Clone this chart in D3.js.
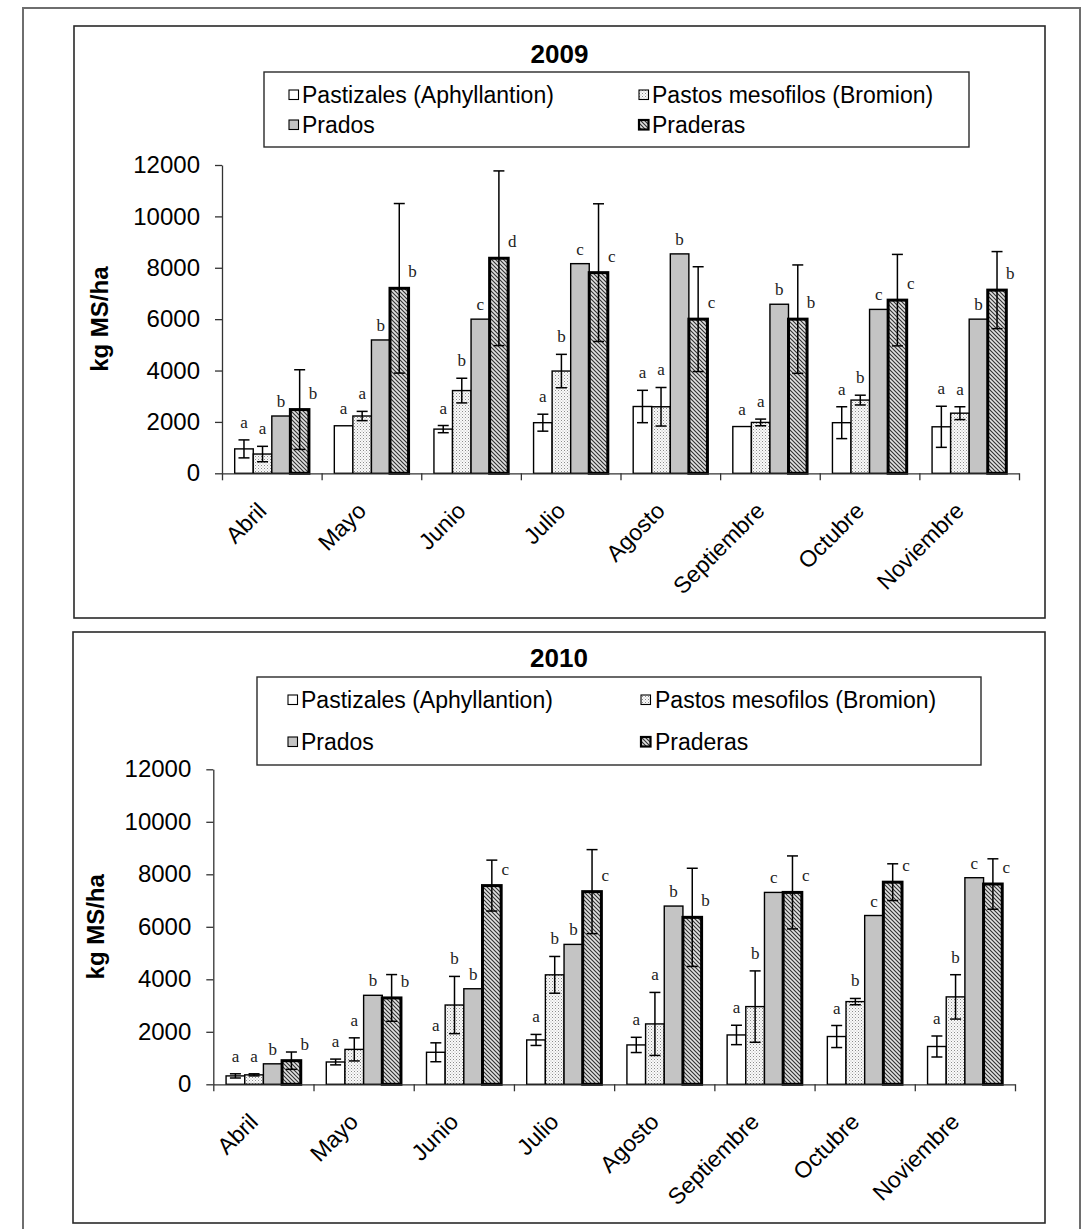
<!DOCTYPE html>
<html>
<head>
<meta charset="utf-8">
<script src="https://cdn.jsdelivr.net/npm/d3@7"></script>
<style>
  body { margin: 0; background: #fff; }
  svg { display: block; }
</style>
</head>
<body>
<script>
// ---- data -------------------------------------------------------------
const months = ["Abril", "Mayo", "Junio", "Julio", "Agosto", "Septiembre", "Octubre", "Noviembre"];
const seriesNames = ["Pastizales (Aphyllantion)", "Pastos mesofilos (Bromion)", "Prados", "Praderas"];
const yTicks = [0, 2000, 4000, 6000, 8000, 10000, 12000];

// 2009 (kg MS/ha, mean and error)
const pastizales2009    = [950, 1850, 1720, 1970, 2600, 1820, 1970, 1810];
const pastizalesErr2009 = [350, 0, 140, 330, 630, 0, 620, 800];
const pastos2009        = [750, 2230, 3220, 3980, 2590, 1980, 2850, 2340];
const pastosErr2009     = [300, 180, 480, 650, 750, 130, 190, 250];
const prados2009        = [2230, 5190, 6000, 8160, 8540, 6580, 6380, 6000];
const praderas2009      = [2480, 7200, 8370, 7810, 6000, 6000, 6740, 7130];
const praderasErr2009   = [1550, 3300, 3400, 2680, 2040, 2110, 1780, 1500];
const pastizalesLet2009 = ["a", "a", "a", "a", "a", "a", "a", "a"];
const pastosLet2009     = ["a", "a", "b", "b", "a", "a", "b", "a"];
const pradosLet2009     = ["b", "b", "c", "c", "b", "b", "c", "b"];
const praderasLet2009   = ["b", "b", "d", "c", "c", "b", "c", "b"];

// 2010
const pastizales2010    = [320, 850, 1220, 1690, 1500, 1880, 1820, 1440];
const pastizalesErr2010 = [80, 110, 360, 210, 290, 370, 420, 400];
const pastos2010        = [360, 1330, 3020, 4170, 2300, 2960, 3150, 3330];
const pastosErr2010     = [40, 440, 1090, 700, 1200, 1360, 120, 845];
const prados2010        = [780, 3390, 3640, 5330, 6790, 7310, 6430, 7870];
const praderas2010      = [900, 3290, 7570, 7340, 6360, 7310, 7700, 7630];
const praderasErr2010   = [330, 890, 970, 1600, 1870, 1390, 700, 960];
const pastizalesLet2010 = ["a", "a", "a", "a", "a", "a", "a", "a"];
const pastosLet2010     = ["a", "a", "b", "b", "a", "b", "b", "b"];
const pradosLet2010     = ["b", "b", "b", "b", "b", "c", "c", "c"];
const praderasLet2010   = ["b", "b", "c", "c", "b", "c", "c", "c"];

// ---- page -------------------------------------------------------------
const W = 1087, H = 1229;
const SANS = "'Liberation Sans', Arial, Helvetica, sans-serif";
const SERIF = "'Liberation Serif', 'Times New Roman', serif";

const svg = d3.select("body").append("svg")
  .attr("width", W).attr("height", H);

const defs = svg.append("defs");

// fine stipple for "Pastos mesofilos"
const stipple = defs.append("pattern").attr("id", "stipple")
  .attr("patternUnits", "userSpaceOnUse").attr("width", 3).attr("height", 3);
stipple.append("rect").attr("width", 3).attr("height", 3).attr("fill", "#fafafa");
stipple.append("rect").attr("x", 0).attr("y", 0).attr("width", 1).attr("height", 1).attr("fill", "#8c8c8c");
stipple.append("rect").attr("x", 1.5).attr("y", 1.5).attr("width", 1).attr("height", 1).attr("fill", "#b5b5b5");

// dense diagonal hatch for "Praderas"
const hatch = defs.append("pattern").attr("id", "hatch")
  .attr("patternUnits", "userSpaceOnUse").attr("width", 4).attr("height", 4);
hatch.append("rect").attr("width", 4).attr("height", 4).attr("fill", "#e2e2e2");
hatch.append("path").attr("d", "M-1,-1L5,5M-1,3L1,5M3,-1L5,1")
  .attr("stroke", "#333").attr("stroke-width", 1.15);

const fills = ["#ffffff", "url(#stipple)", "#c4c4c4", "url(#hatch)"];
const strokeW = [1.4, 1.4, 1.4, 3];

// outer page frame
svg.append("rect")
  .attr("x", 23).attr("y", 8).attr("width", 1057).attr("height", 1260)
  .attr("fill", "none").attr("stroke", "#6e6e6e").attr("stroke-width", 2);

const panels = [
  {
    title: "2009",
    frame: { x: 74, y: 26, w: 971, h: 592 },
    plot: { x0: 222, x1: 1019, yt: 165, yb: 473.3 },
    titleY: 63, yTitleX: 108,
    legend: { x: 264, y: 72, w: 705, h: 75, rows: [103, 133], sq: [289, 639], tx: [302, 652] },
    values: [pastizales2009, pastos2009, prados2009, praderas2009],
    errors: [pastizalesErr2009, pastosErr2009, null, praderasErr2009],
    letters: [pastizalesLet2009, pastosLet2009, pradosLet2009, praderasLet2009]
  },
  {
    title: "2010",
    frame: { x: 73, y: 632, w: 972, h: 591 },
    plot: { x0: 213.3, x1: 1015, yt: 769.3, yb: 1084.3 },
    titleY: 667, yTitleX: 104,
    legend: { x: 257, y: 677, w: 724, h: 88, rows: [708, 750], sq: [288, 641], tx: [301, 655] },
    values: [pastizales2010, pastos2010, prados2010, praderas2010],
    errors: [pastizalesErr2010, pastosErr2010, null, praderasErr2010],
    letters: [pastizalesLet2010, pastosLet2010, pradosLet2010, praderasLet2010]
  }
];

panels.forEach(drawPanel);

function drawPanel(p) {
  const g = svg.append("g");
  const f = p.frame, pl = p.plot;

  // chart area border
  g.append("rect")
    .attr("x", f.x).attr("y", f.y).attr("width", f.w).attr("height", f.h)
    .attr("fill", "#fff").attr("stroke", "#2a2a2a").attr("stroke-width", 1.6);

  // title
  g.append("text")
    .attr("x", f.x + f.w / 2).attr("y", p.titleY)
    .attr("text-anchor", "middle")
    .attr("font-family", SANS).attr("font-size", 26).attr("font-weight", "bold")
    .text(p.title);

  // scales
  const x = d3.scaleBand().domain(months).range([pl.x0, pl.x1]);
  const xs = d3.scaleBand().domain(d3.range(4)).range([0, x.bandwidth()])
    .paddingInner(0).paddingOuter(0.684);
  const y = d3.scaleLinear().domain([0, 12000]).range([pl.yb, pl.yt]);
  const bw = xs.bandwidth();

  // y axis
  const gy = g.append("g")
    .attr("transform", `translate(${pl.x0},0)`)
    .call(d3.axisLeft(y).tickValues(yTicks).tickSize(7).tickSizeOuter(0).tickPadding(15)
      .tickFormat(d3.format("d")));
  gy.attr("font-family", SANS).attr("font-size", 24);
  gy.selectAll("path,line").attr("stroke", "#333").attr("stroke-width", 1.3);
  gy.selectAll("text").attr("fill", "#000");

  // y axis title
  g.append("text")
    .attr("transform", `translate(${p.yTitleX},${(pl.yt + pl.yb) / 2}) rotate(-90)`)
    .attr("text-anchor", "middle")
    .attr("font-family", SANS).attr("font-size", 24).attr("font-weight", "bold")
    .text("kg MS/ha");

  // bars
  p.values.forEach((vals, si) => {
    g.append("g").selectAll("rect").data(vals).join("rect")
      .attr("x", (d, i) => x(months[i]) + xs(si))
      .attr("y", d => y(d))
      .attr("width", bw)
      .attr("height", d => y(0) - y(d))
      .attr("fill", fills[si])
      .attr("stroke", "#000")
      .attr("stroke-width", strokeW[si]);
  });

  // error bars
  const cap = 5.5;
  p.values.forEach((vals, si) => {
    const errs = p.errors[si];
    if (!errs) return;
    const eg = g.append("g").attr("stroke", "#000").attr("stroke-width", 1.5);
    vals.forEach((v, i) => {
      const e = errs[i];
      if (!e) return;
      const cx = x(months[i]) + xs(si) + bw / 2;
      const yHi = y(v + e), yLo = y(Math.max(0, v - e));
      eg.append("line").attr("x1", cx).attr("x2", cx).attr("y1", yHi).attr("y2", yLo);
      eg.append("line").attr("x1", cx - cap).attr("x2", cx + cap).attr("y1", yHi).attr("y2", yHi);
      eg.append("line").attr("x1", cx - cap).attr("x2", cx + cap).attr("y1", yLo).attr("y2", yLo);
    });
  });

  // significance letters
  const lg = g.append("g").attr("font-family", SERIF).attr("font-size", 17)
    .attr("text-anchor", "middle").attr("fill", "#222");
  p.letters.forEach((lets, si) => {
    const vals = p.values[si], errs = p.errors[si];
    lets.forEach((t, i) => {
      const left = x(months[i]) + xs(si);
      let lx, ly;
      if (si === 3) {
        lx = left + bw + 4;
        ly = y(vals[i]) - 11;
      } else if (si === 2) {
        lx = left + bw / 2;
        ly = y(vals[i]) - 9;
      } else {
        lx = left + bw / 2;
        ly = y(vals[i] + (errs ? errs[i] : 0)) - 12;
      }
      lg.append("text").attr("x", lx).attr("y", ly).text(t);
    });
  });

  // x axis with ticks at category boundaries
  const xb = d3.scaleLinear().domain([0, months.length]).range([pl.x0, pl.x1]);
  const gx = g.append("g")
    .attr("transform", `translate(0,${pl.yb})`)
    .call(d3.axisBottom(xb).tickValues(d3.range(months.length + 1)).tickSize(7)
      .tickSizeOuter(0).tickFormat(""));
  gx.selectAll("path,line").attr("stroke", "#333").attr("stroke-width", 1.3);

  // rotated month labels
  g.append("g").selectAll("text").data(months).join("text")
    .attr("transform", d => `translate(${x(d) + x.bandwidth() / 2 - 4},${pl.yb + 39}) rotate(-45)`)
    .attr("text-anchor", "end")
    .attr("font-family", SANS).attr("font-size", 23)
    .text(d => d);

  // legend
  const L = p.legend;
  const lgd = g.append("g");
  lgd.append("rect")
    .attr("x", L.x).attr("y", L.y).attr("width", L.w).attr("height", L.h)
    .attr("fill", "#fff").attr("stroke", "#2a2a2a").attr("stroke-width", 1.4);
  seriesNames.forEach((name, si) => {
    const col = si % 2, row = Math.floor(si / 2);
    const base = L.rows[row];
    lgd.append("rect")
      .attr("x", L.sq[col]).attr("y", base - 13)
      .attr("width", 9.5).attr("height", 9.5)
      .attr("fill", fills[si]).attr("stroke", "#000")
      .attr("stroke-width", si === 3 ? 2.2 : 1.1);
    lgd.append("text")
      .attr("x", L.tx[col]).attr("y", base)
      .attr("font-family", SANS).attr("font-size", 23)
      .text(name);
  });
}
</script>
</body>
</html>
